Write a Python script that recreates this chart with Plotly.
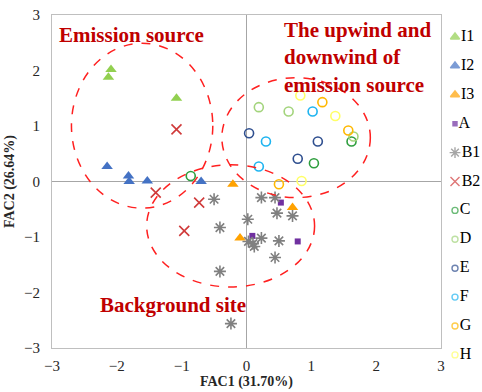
import plotly.graph_objects as go

# ---------------- data ----------------
series_names = ["I1", "I2", "I3", "A", "B1", "B2", "C", "D", "E", "F", "G", "H"]

i1_x = [-2.09, -2.13, -1.08]
i1_y = [2.02, 1.88, 1.50]
i2_x = [-2.15, -1.82, -1.81, -1.53, -0.70]
i2_y = [0.27, 0.10, 0.00, 0.01, 0.00]
i3_x = [-0.21, -0.10, 0.71]
i3_y = [-0.05, -1.02, -0.47]
a_x = [0.09, 0.53, 0.79]
a_y = [-0.98, -0.38, -1.08]
b1_x = [-0.50, -0.41, -0.41, -0.24, 0.02, 0.23, 0.44, 0.47, 0.71, 0.23, 0.03, 0.12, 0.10, 0.50, 0.44]
b1_y = [-0.32, -0.83, -1.62, -2.56, -0.68, -0.29, -0.29, -0.57, -0.62, -1.02, -1.08, -1.17, -1.12, -1.07, -1.37]
b2_x = [-1.08, -1.40, -0.73, -0.96]
b2_y = [0.94, -0.20, -0.38, -0.89]
c_x = [-0.86, 1.62, 1.04]
c_y = [0.10, 0.72, 0.33]
d_x = [0.19, 0.65, 1.65]
d_y = [1.34, 1.26, 0.81]
e_x = [0.04, 1.10, 0.79]
e_y = [0.87, 0.72, 0.41]
f_x = [0.30, 1.02, 0.19]
f_y = [0.72, 1.26, 0.27]
g_x = [1.17, 1.57, 0.50]
g_y = [1.43, 0.92, -0.05]
h_x = [0.83, 1.37, 0.85]
h_y = [1.55, 1.18, 0.01]

x_ticks = [-3, -2, -1, 0, 1, 2, 3]
y_ticks = [-3, -2, -1, 0, 1, 2, 3]
x_title = "FAC1 (31.70%)"
y_title = "FAC2 (26.64%)"

group_labels = ["Emission source", "The upwind and<br>downwind of<br>emission source", "Background site"]

# ---------------- styles ----------------
data = {
    "I1": (i1_x, i1_y), "I2": (i2_x, i2_y), "I3": (i3_x, i3_y), "A": (a_x, a_y),
    "B1": (b1_x, b1_y), "B2": (b2_x, b2_y), "C": (c_x, c_y), "D": (d_x, d_y),
    "E": (e_x, e_y), "F": (f_x, f_y), "G": (g_x, g_y), "H": (h_x, h_y),
}
styles = {
    "I1": dict(symbol="triangle-up", color="#92D050", size=10, lsize=8),
    "I2": dict(symbol="triangle-up", color="#4472C4", size=10, lsize=8),
    "I3": dict(symbol="triangle-up", color="#FFA200", size=10, lsize=8),
    "A": dict(symbol="square", color="#7030A0", size=6, lsize=4),
    "B1": dict(symbol="asterisk-open", color="#808080", size=10, lsize=9),
    "B2": dict(symbol="x-thin-open", color="#D03A3A", size=10, lsize=9),
    "C": dict(symbol="circle-open", color="#2E9E3E", size=9, lsize=6),
    "D": dict(symbol="circle-open", color="#A3D47C", size=9, lsize=6),
    "E": dict(symbol="circle-open", color="#2F4F8F", size=9, lsize=6),
    "F": dict(symbol="circle-open", color="#1EB4F0", size=9, lsize=6),
    "G": dict(symbol="circle-open", color="#FFB800", size=9, lsize=6),
    "H": dict(symbol="circle-open", color="#FFFF66", size=9, lsize=6),
}

SERIF = "Liberation Serif, Times New Roman, serif"
RED_TXT = "#C00000"

fig = go.Figure()
for name in series_names:
    xs, ys = data[name]
    st = styles[name]
    open_sym = st["symbol"].endswith("open")
    marker = dict(symbol=st["symbol"], size=st["size"], color=st["color"],
                  line=dict(color=st["color"], width=1.6 if open_sym else 0))
    fig.add_trace(go.Scatter(x=xs, y=ys, mode="markers", name=name, marker=marker,
                             showlegend=False, xaxis="x", yaxis="y"))

# custom legend drawn on a small auxiliary axis at the right
leg_idx = list(range(len(series_names)))
fig.add_trace(go.Scatter(
    x=[5] * len(series_names), y=leg_idx, mode="markers+text",
    text=series_names, textposition="middle right",
    textfont=dict(family=SERIF, size=16, color="#000000"),
    marker=dict(symbol=[styles[n]["symbol"] for n in series_names],
                size=[styles[n]["lsize"] for n in series_names],
                color=[styles[n]["color"] for n in series_names],
                line=dict(color=[styles[n]["color"] for n in series_names], width=1.4)),
    showlegend=False, cliponaxis=False, hoverinfo="skip", xaxis="x2", yaxis="y2"))

W, H = 482, 392
ML, MR, MT, MB = 52, 0, 15, 30
paper_w = W - ML - MR
paper_h = H - MT - MB
plot_right = 441
plot_bottom = 348
main_xdom = (plot_right - ML) / paper_w
main_ydom0 = (H - MB - plot_bottom) / paper_h

# legend rows: first at 37 px, spacing ~28.9 px
row0, row_step = 37.0, 28.9
leg_top = (MT - row0) / row_step
leg_bot = (H - MB - row0) / row_step

ellipses = [
    dict(x0=-2.70, x1=-0.52, y0=-0.48, y1=2.49),
    dict(x0=-0.38, x1=1.91, y0=-0.29, y1=1.87),
    dict(x0=-1.54, x1=1.05, y0=-1.90, y1=0.30),
]
shapes = [dict(type="circle", xref="x", yref="y", layer="above",
               line=dict(color="#FF2020", width=1.5, dash="dash"), **e) for e in ellipses]

annotations = [
    dict(x=-2.93, y=2.64, xref="x", yref="y", text="<b>" + group_labels[0] + "</b>",
         showarrow=False, xanchor="left", yanchor="middle",
         font=dict(family=SERIF, size=21, color=RED_TXT)),
    dict(x=0.54, y=2.24, xref="x", yref="y", text="<b>" + group_labels[1] + "</b>",
         showarrow=False, xanchor="left", yanchor="middle", align="left",
         font=dict(family=SERIF, size=21, color=RED_TXT)),
    dict(x=-1.13, y=-2.23, xref="x", yref="y", text="<b>" + group_labels[2] + "</b>",
         showarrow=False, xanchor="center", yanchor="middle",
         font=dict(family=SERIF, size=21, color=RED_TXT)),
]

axis_common = dict(showgrid=False, showline=True, mirror=True, linecolor="#BFBFBF", linewidth=1,
                   zeroline=True, zerolinecolor="#A6A6A6", zerolinewidth=1,
                   ticks="outside", tickcolor="rgba(0,0,0,0)", automargin=False,
                   tickfont=dict(family=SERIF, size=15, color="#262626"))

fig.update_layout(
    width=W, height=H, margin=dict(l=ML, r=MR, t=MT, b=MB),
    paper_bgcolor="white", plot_bgcolor="white",
    xaxis=dict(range=[-3, 3], tickvals=x_ticks, domain=[0, main_xdom], ticklen=4,
               title=dict(text="<b>" + x_title + "</b>", font=dict(family=SERIF, size=14, color="#262626"), standoff=2),
               **axis_common),
    yaxis=dict(range=[-3, 3], tickvals=y_ticks, ticklen=8, domain=[main_ydom0, 1],
               title=dict(text="<b>" + y_title + "</b>", font=dict(family=SERIF, size=14, color="#262626"), standoff=6),
               **axis_common),
    xaxis2=dict(domain=[(450 - ML) / paper_w, 1], range=[0, 32], visible=False, anchor="y2", automargin=False),
    yaxis2=dict(domain=[0, 1], range=[leg_bot, leg_top], visible=False, anchor="x2", automargin=False),
    shapes=shapes, annotations=annotations, showlegend=False,
)

fig.write_html("out.html", config={"displayModeBar": False},
               post_script="document.body.style.margin='0';document.body.style.padding='0';")
